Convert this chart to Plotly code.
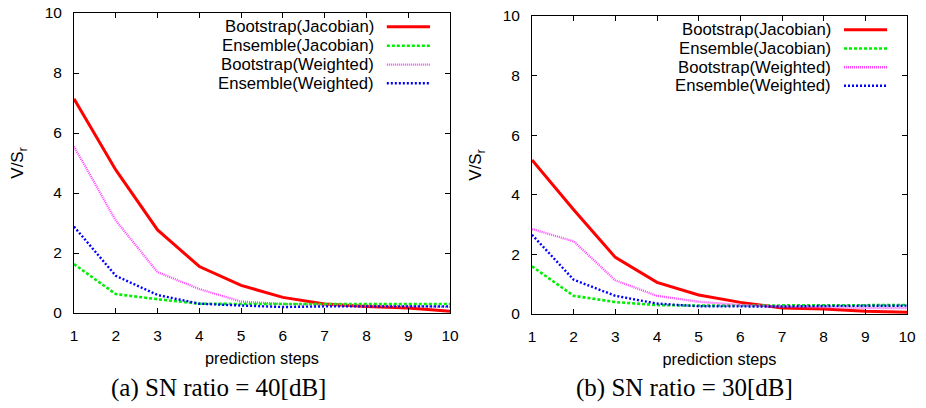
import plotly.graph_objects as go

steps = [1, 2, 3, 4, 5, 6, 7, 8, 9, 10]
series_names = ["Bootstrap(Jacobian)", "Ensemble(Jacobian)", "Bootstrap(Weighted)", "Ensemble(Weighted)"]

# (a) SN ratio = 40 dB
a_boot_jac = [7.14, 4.77, 2.77, 1.55, 0.92, 0.52, 0.30, 0.22, 0.17, 0.06]
a_ens_jac = [1.63, 0.63, 0.46, 0.31, 0.30, 0.30, 0.30, 0.30, 0.30, 0.30]
a_boot_w = [5.55, 3.08, 1.36, 0.80, 0.38, 0.30, 0.28, 0.25, 0.22, 0.20]
a_ens_w = [2.88, 1.24, 0.60, 0.31, 0.25, 0.20, 0.22, 0.22, 0.22, 0.22]

# (b) SN ratio = 30 dB
b_boot_jac = [5.17, 3.50, 1.90, 1.06, 0.64, 0.39, 0.20, 0.17, 0.09, 0.06]
b_ens_jac = [1.60, 0.61, 0.40, 0.30, 0.28, 0.28, 0.30, 0.30, 0.30, 0.30]
b_boot_w = [2.85, 2.44, 1.13, 0.61, 0.41, 0.30, 0.25, 0.22, 0.20, 0.20]
b_ens_w = [2.66, 1.15, 0.61, 0.35, 0.26, 0.25, 0.25, 0.27, 0.28, 0.28]

y_ticks = [0, 2, 4, 6, 8, 10]
captions = ["(a) SN ratio = 40[dB]", "(b) SN ratio = 30[dB]"]

colors = ["#ff0000", "#00ee00", "#ff44ff", "#0000ff"]
dashes = ["solid", "3px,2px", "1px,1px", "2px,2px"]
widths = [3, 2.6, 2.3, 2.4]

W, H = 926, 408
fig = go.Figure()

panels = [
    ("x", "y", [a_boot_jac, a_ens_jac, a_boot_w, a_ens_w]),
    ("x2", "y2", [b_boot_jac, b_ens_jac, b_boot_w, b_ens_w]),
]
for xa, ya, data in panels:
    for name, vals, c, d, w in zip(series_names, data, colors, dashes, widths):
        fig.add_trace(go.Scatter(x=steps, y=vals, mode="lines", name=name,
                                 line=dict(color=c, dash=d, width=w),
                                 xaxis=xa, yaxis=ya, showlegend=False))

sans = "Liberation Sans, Arial, sans-serif"
tick_font = dict(family=sans, size=15.5, color="black")
common_x = dict(range=[1, 10], tickvals=steps, ticks="inside", ticklen=5, tickcolor="black",
                showline=True, linecolor="black", linewidth=1, mirror="allticks",
                showgrid=False, zeroline=False, tickfont=tick_font, ticklabelstandoff=8,
                title=dict(text="prediction steps", font=dict(family=sans, size=16.3, color="black"), standoff=9),
                automargin=False)
common_y = dict(range=[0, 10], tickvals=y_ticks, ticks="inside", ticklen=5, tickcolor="black",
                showline=True, linecolor="black", linewidth=1, mirror="allticks",
                showgrid=False, zeroline=False, tickfont=tick_font, ticklabelstandoff=8,
                title=dict(text="V/S<sub>r</sub>", font=dict(family=sans, size=17, color="black"), standoff=16),
                automargin=False)

fig.update_layout(
    width=W, height=H,
    margin=dict(l=0, r=0, t=0, b=0),
    paper_bgcolor="white", plot_bgcolor="white",
    xaxis=dict(domain=[74 / W, 450 / W], anchor="y", **common_x),
    yaxis=dict(domain=[(H - 313) / H, (H - 13) / H], anchor="x", **common_y),
    xaxis2=dict(domain=[532 / W, 907 / W], anchor="y2", **common_x),
    yaxis2=dict(domain=[(H - 314) / H, (H - 16) / H], anchor="x2", **common_y),
)

# custom legends (text right-aligned, sample line on the right)
legend_rows = [0.954, 0.891, 0.828, 0.766]
for xa, ya in [("x", "y"), ("x2", "y2")]:
    for name, c, d, w, yy in zip(series_names, colors, dashes, widths, legend_rows):
        fig.add_annotation(x=0.803, y=yy, xref=f"{xa} domain", yref=f"{ya} domain",
                           text=name, showarrow=False, xanchor="right", yanchor="middle",
                           font=dict(family=sans, size=16.7, color="black"))
        fig.add_shape(type="line", x0=0.832, x1=0.947, y0=yy, y1=yy,
                      xref=f"{xa} domain", yref=f"{ya} domain",
                      line=dict(color=c, dash=d, width=w))

# captions
for cx, cap in zip([218 / W, 684 / W], captions):
    fig.add_annotation(x=cx, y=(H - 388) / H, xref="paper", yref="paper", text=cap,
                       showarrow=False, xanchor="center", yanchor="middle",
                       font=dict(family="Liberation Serif, Times New Roman, serif", size=25, color="black"))

fig.write_html("out.html", config={"displayModeBar": False},
               post_script="document.body.style.margin='0';")
